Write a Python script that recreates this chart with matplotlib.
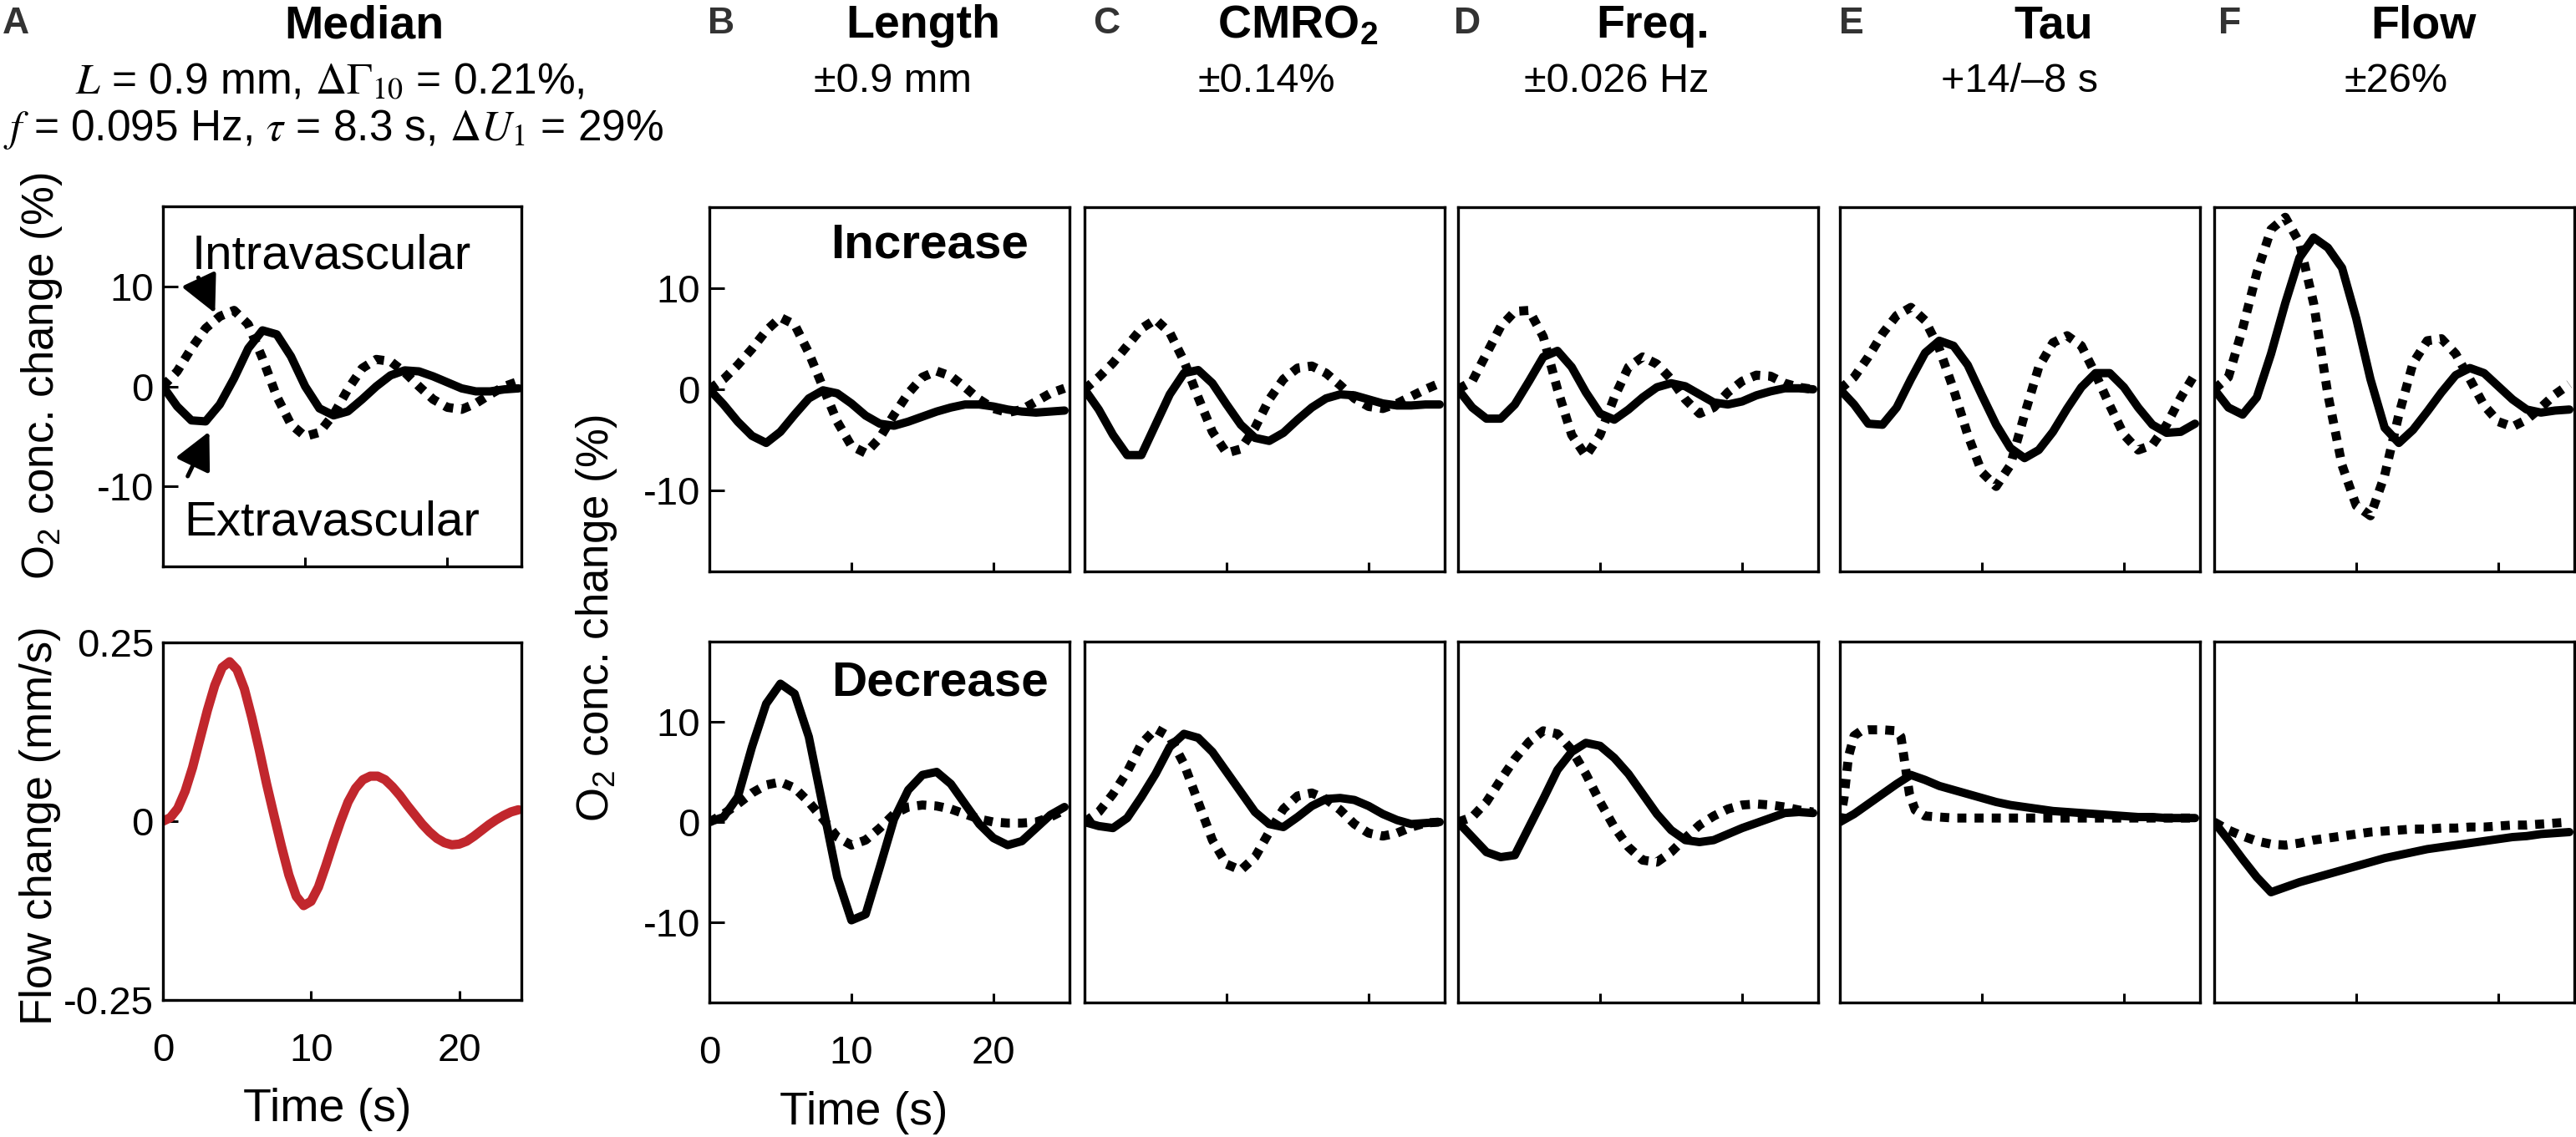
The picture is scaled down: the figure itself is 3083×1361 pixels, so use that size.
import matplotlib
matplotlib.use('Agg')

import numpy as np
import matplotlib.pyplot as plt

# figure size in pixels (rendered at 200 dpi)
W, H = 3083, 1361
DPI = 200

plt.rcParams['font.family'] = ['Liberation Sans', 'DejaVu Sans']
plt.rcParams['mathtext.fontset'] = 'custom'
plt.rcParams['mathtext.rm'] = 'Liberation Sans'
plt.rcParams['mathtext.it'] = 'Liberation Sans:italic'
plt.rcParams['mathtext.bf'] = 'Liberation Sans:bold'
plt.rcParams['axes.unicode_minus'] = False

# ---- data ----
time_s = list(range(26))                       # 0..25 s
time_half = [i * 0.5 for i in range(49)]       # 0..24 s

# panel A, median parameters
median_extra = [0, -2.0, -3.4, -3.5, -1.8, 0.8, 3.8, 5.6, 5.2, 3.0, 0.0, -2.2, -2.9,
                -2.5, -1.3, 0.0, 1.1, 1.6, 1.5, 1.0, 0.4, -0.2, -0.5, -0.5, -0.3, -0.2]
median_intra = [0, 1.5, 3.8, 5.8, 7.0, 7.6, 6.2, 2.8, -1.0, -3.8, -5.0, -4.6, -2.8,
                -0.3, 1.8, 2.7, 2.5, 1.4, 0.0, -1.3, -2.1, -2.3, -1.7, -0.8, 0.0, 0.5]
median_flow = [0.000, 0.005, 0.018, 0.042, 0.075, 0.115, 0.155, 0.190, 0.215, 0.223,
               0.212, 0.185, 0.145, 0.100, 0.052, 0.008, -0.035, -0.075, -0.105, -0.118,
               -0.112, -0.092, -0.062, -0.030, 0.000, 0.027, 0.046, 0.058, 0.063, 0.063,
               0.058, 0.048, 0.036, 0.022, 0.009, -0.004, -0.015, -0.024, -0.030, -0.033,
               -0.032, -0.028, -0.021, -0.013, -0.005, 0.002, 0.008, 0.013, 0.016]

# increase row (solid = extravascular, dotted = intravascular)
length_inc_extra = [0, -1.5, -3.2, -4.6, -5.3, -4.2, -2.5, -0.9, -0.1, -0.4, -1.4, -2.6, -3.4,
                    -3.6, -3.2, -2.7, -2.2, -1.8, -1.5, -1.5, -1.7, -2.0, -2.2, -2.3, -2.2, -2.1]
length_inc_intra = [0, 1.0, 2.4, 4.0, 5.8, 7.1, 6.4, 3.6, 0.2, -3.2, -5.6, -6.3, -4.8,
                    -2.5, -0.4, 1.2, 1.8, 1.3, 0.2, -1.0, -1.9, -2.3, -2.0, -1.2, -0.4, 0.1]
cmro2_inc_extra = [0, -2.0, -4.5, -6.5, -6.5, -3.5, -0.5, 1.6, 1.9, 0.6, -1.5, -3.5, -4.8,
                   -5.1, -4.3, -3.0, -1.8, -0.9, -0.5, -0.6, -1.0, -1.4, -1.6, -1.6, -1.5, -1.5]
cmro2_inc_intra = [0, 1.2, 2.6, 4.3, 6.0, 6.9, 5.6, 2.8, -0.8, -4.2, -6.3, -5.9, -3.8,
                   -1.0, 1.0, 2.1, 2.3, 1.6, 0.4, -0.9, -1.7, -1.9, -1.4, -0.7, 0.0, 0.6]
freq_inc_extra = [0, -1.8, -2.9, -2.9, -1.5, 0.8, 3.2, 3.8, 2.2, -0.3, -2.4, -3.0, -2.0,
                  -0.8, 0.2, 0.6, 0.3, -0.5, -1.3, -1.5, -1.2, -0.6, -0.2, 0.1, 0.1, 0.0]
freq_inc_intra = [0, 0.8, 3.5, 6.2, 7.7, 7.8, 5.2, 0.0, -4.5, -6.6, -4.5, -0.8, 2.2,
                  3.2, 2.5, 1.0, -1.0, -2.4, -1.8, -0.3, 0.8, 1.4, 1.3, 0.6, 0.2, 0.0]
tau_inc_extra = [0, -1.5, -3.4, -3.5, -1.8, 1.0, 3.6, 4.8, 4.3, 2.4, -0.6, -3.5, -5.8,
                 -6.8, -6.0, -4.2, -1.9, 0.2, 1.6, 1.6, 0.2, -1.8, -3.5, -4.3, -4.2, -3.4]
tau_inc_intra = [0, 1.2, 3.2, 5.5, 7.3, 8.1, 6.8, 4.0, 0.0, -4.5, -8.2, -9.6, -7.5,
                 -2.5, 2.2, 4.6, 5.3, 4.3, 1.5, -1.6, -4.5, -6.0, -5.5, -3.5, -0.8, 1.5]
flow_inc_extra = [0, -1.8, -2.5, -0.8, 3.5, 8.5, 13.0, 15.0, 14.0, 12.0, 7.0, 1.0, -3.8,
                  -5.3, -4.0, -2.2, -0.3, 1.4, 2.1, 1.6, 0.3, -1.0, -2.0, -2.3, -2.1, -2.0]
flow_inc_intra = [0, 1.2, 6.0, 11.5, 15.8, 17.0, 14.5, 8.5, -0.5, -7.5, -11.5, -12.5, -8.5,
                  -2.5, 2.6, 4.8, 5.0, 3.5, 1.0, -1.6, -3.2, -3.7, -3.0, -1.8, -0.5, 0.5]

# decrease row
length_dec_extra = [0, 0.5, 2.5, 7.5, 11.8, 13.8, 12.8, 8.5, 1.5, -5.5, -9.8, -9.2, -4.5,
                    0.3, 3.2, 4.7, 5.0, 3.8, 1.8, -0.2, -1.6, -2.3, -1.9, -0.6, 0.7, 1.5]
length_dec_intra = [0, 0.8, 1.8, 2.9, 3.7, 4.0, 3.4, 2.0, 0.3, -1.5, -2.3, -1.8, -0.6,
                    0.8, 1.5, 1.7, 1.6, 1.3, 0.8, 0.3, 0.0, -0.1, -0.1, 0.0, 0.5, 1.2]
cmro2_dec_extra = [0, -0.4, -0.6, 0.4, 2.5, 4.8, 7.5, 8.8, 8.4, 7.0, 5.0, 3.0, 1.0,
                   -0.2, -0.5, 0.5, 1.6, 2.3, 2.4, 2.2, 1.6, 0.8, 0.2, -0.2, -0.1, 0.0]
cmro2_dec_intra = [0, 1.0, 2.8, 5.0, 7.8, 9.3, 8.5, 5.8, 2.0, -1.8, -4.2, -4.8, -3.5,
                   -1.0, 1.3, 2.6, 2.9, 2.3, 1.2, -0.2, -1.1, -1.4, -1.1, -0.5, -0.1, 0.0]
freq_dec_extra = [0, -1.5, -3.0, -3.5, -3.3, -0.5, 2.3, 5.2, 7.0, 7.9, 7.6, 6.4, 4.8,
                  2.8, 0.8, -0.8, -1.8, -2.0, -1.8, -1.2, -0.6, -0.1, 0.4, 0.9, 1.0, 0.9]
freq_dec_intra = [0, 0.5, 2.0, 4.2, 6.3, 8.0, 9.1, 8.8, 7.2, 4.8, 2.0, -0.5, -2.5,
                  -3.8, -4.0, -3.0, -1.6, -0.3, 0.6, 1.3, 1.7, 1.8, 1.7, 1.5, 1.2, 1.0]
tau_dec_extra = [0, 0.8, 1.8, 2.8, 3.8, 4.7, 4.2, 3.6, 3.2, 2.8, 2.4, 2.0, 1.7,
                 1.5, 1.3, 1.1, 1.0, 0.9, 0.8, 0.7, 0.6, 0.5, 0.5, 0.4, 0.4, 0.4]
tau_dec_intra_t = [0, 0.3, 0.6, 1.0, 1.5, 2.0, 3.0, 4.0, 4.3, 4.6, 4.9, 5.3, 6.0,
                   7.0, 8.0, 10.0, 12.0, 15.0, 20.0, 25.0]
tau_dec_intra = [0, 2.5, 6.5, 8.6, 9.1, 9.2, 9.2, 9.1, 8.5, 5.6, 2.8, 1.2, 0.6,
                 0.5, 0.4, 0.4, 0.4, 0.4, 0.4, 0.4]
flow_dec_extra = [0, -1.8, -3.7, -5.5, -7.0, -6.5, -6.0, -5.6, -5.2, -4.8, -4.4, -4.0, -3.6,
                  -3.3, -3.0, -2.7, -2.5, -2.3, -2.1, -1.9, -1.7, -1.5, -1.4, -1.2, -1.1, -1.0]
flow_dec_intra = [0, -0.8, -1.4, -1.9, -2.2, -2.3, -2.1, -1.8, -1.6, -1.4, -1.2, -1.0, -0.9,
                  -0.8, -0.7, -0.7, -0.6, -0.6, -0.5, -0.5, -0.4, -0.3, -0.3, -0.2, -0.1, 0.0]

panel_letters = ['B', 'C', 'D', 'E', 'F']
panel_titles = ['Length', 'CMRO$_\\mathbf{2}$', 'Freq.', 'Tau', 'Flow']
panel_ranges = ['\u00b10.9 mm', '\u00b10.14%', '\u00b10.026 Hz', '+14/\u20138 s', '\u00b126%']

inc_extra = [length_inc_extra, cmro2_inc_extra, freq_inc_extra, tau_inc_extra, flow_inc_extra]
inc_intra = [length_inc_intra, cmro2_inc_intra, freq_inc_intra, tau_inc_intra, flow_inc_intra]
dec_extra = [length_dec_extra, cmro2_dec_extra, freq_dec_extra, tau_dec_extra, flow_dec_extra]
dec_intra = [length_dec_intra, cmro2_dec_intra, freq_dec_intra, tau_dec_intra, flow_dec_intra]
dec_intra_t = [time_s, time_s, time_s, tau_dec_intra_t, time_s]

# ---- layout (pixel boxes) ----
col_left = [849, 1298, 1745, 2202, 2650]
col_w = 431
top_row = (248, 684)
bot_row = (768, 1200)

LW = 3.6
DOTS = (1.0, 0.9)
RED = '#C1272D'


def box(l, t, r, b):
    return [l / W, 1 - b / H, (r - l) / W, (b - t) / H]


def fx(px):
    return px / W


def fy(py):
    return 1 - py / H


def style_ax(ax, ylab=False, xlab=False):
    for s in ax.spines.values():
        s.set_linewidth(1.2)
    ax.tick_params(axis='x', direction='in', length=4, width=1.1, pad=14, labelsize=17)
    ax.tick_params(axis='y', direction='in', length=6.5, width=1.1, pad=4, labelsize=17)
    if not xlab:
        ax.tick_params(axis='x', labelbottom=False)
    if not ylab:
        ax.set_yticks([])


def draw_pair(ax, t_solid, solid, t_dot, dotted):
    ax.plot(t_dot, dotted, color='k', lw=LW + 0.3, linestyle=(0, DOTS),
            dash_capstyle='butt')
    ax.plot(t_solid, solid, color='k', lw=LW, solid_capstyle='round',
            solid_joinstyle='round')


fig = plt.figure(figsize=(W / DPI, H / DPI), dpi=DPI)

# ---- panel A ----
axA = fig.add_axes(box(195, 247, 624, 678))
draw_pair(axA, time_s, median_extra, time_s, median_intra)
axA.set_xlim(0, 25.2)
axA.set_ylim(-18, 18)
axA.set_xticks([10, 20])
axA.set_yticks([-10, 0, 10])
style_ax(axA, ylab=True)
axA.text(2.06, 11.8, 'Intravascular', fontsize=21, va='baseline')
axA.annotate('', xy=(3.8, 6.9), xytext=(2.35, 11.3),
             arrowprops=dict(arrowstyle='-|>', lw=1.8, mutation_scale=34, color='k'))
axA.text(1.47, -14.85, 'Extravascular', fontsize=21, va='baseline')
axA.annotate('', xy=(3.4, -4.1), xytext=(1.6, -9.4),
             arrowprops=dict(arrowstyle='-|>', lw=1.8, mutation_scale=34, color='k'))

axA2 = fig.add_axes(box(195, 769, 624, 1197))
axA2.plot(time_half, median_flow, color=RED, lw=4.0, solid_capstyle='round')
axA2.set_xlim(0, 24.2)
axA2.set_ylim(-0.25, 0.25)
axA2.set_xticks([0, 10, 20])
axA2.set_yticks([-0.25, 0, 0.25])
axA2.set_yticklabels(['-0.25', '0', '0.25'])
style_ax(axA2, ylab=True, xlab=True)

fig.text(fx(50), fy(450), 'O$_2$ conc. change (%)', rotation=90, fontsize=19,
         ha='center', va='center')
fig.text(fx(48), fy(988), 'Flow change (mm/s)', rotation=90, fontsize=19,
         ha='center', va='center')
fig.text(fx(392), fy(1328), 'Time (s)', fontsize=20, ha='center', va='center')

# ---- panels B-F ----
for i in range(5):
    l = col_left[i]
    ax1 = fig.add_axes(box(l, top_row[0], l + col_w, top_row[1]))
    draw_pair(ax1, time_s, inc_extra[i], time_s, inc_intra[i])
    ax2 = fig.add_axes(box(l, bot_row[0], l + col_w, bot_row[1]))
    draw_pair(ax2, time_s, dec_extra[i], dec_intra_t[i], dec_intra[i])
    for ax in (ax1, ax2):
        ax.set_xlim(0, col_w / 17.0)
        ax.set_ylim(-18, 18)
        ax.set_yticks([-10, 0, 10])
    ax1.set_xticks([10, 20])
    ax2.set_xticks([0, 10, 20] if i == 0 else [10, 20])
    style_ax(ax1, ylab=(i == 0))
    style_ax(ax2, ylab=(i == 0), xlab=(i == 0))
    if i == 0:
        ax1.text(0.336, 0.862, 'Increase', transform=ax1.transAxes, fontsize=21,
                 fontweight='bold', va='baseline')
        ax2.text(0.339, 0.85, 'Decrease', transform=ax2.transAxes, fontsize=21,
                 fontweight='bold', va='baseline')

fig.text(fx(714), fy(740), 'O$_2$ conc. change (%)', rotation=90, fontsize=19,
         ha='center', va='center')
fig.text(fx(1034), fy(1332), 'Time (s)', fontsize=20, ha='center', va='center')

# ---- headers ----
letter_x = [3, 847, 1308, 1740, 2201, 2655]
for lx, lt in zip(letter_x, ['A'] + panel_letters):
    fig.text(fx(lx), fy(40), lt, fontsize=16, fontweight='bold', color='#333333',
             ha='left', va='baseline')

title_x = [436, 1105, 1553, 1978, 2458, 2900]
for tx, tt in zip(title_x, ['Median'] + panel_titles):
    fig.text(fx(tx), fy(45), tt, fontsize=20, fontweight='bold', ha='center',
             va='baseline')

range_x = [1068, 1516, 1935, 2417, 2868]
for rx, rt in zip(range_x, panel_ranges):
    fig.text(fx(rx), fy(110), rt, fontsize=17.5, ha='center', va='baseline')

fig.text(fx(395), fy(113), r'$L$ = 0.9 mm, $\Delta\Gamma_{10}$ = 0.21%,', fontsize=18.5,
         ha='center', va='baseline', math_fontfamily='stix')
fig.text(fx(399), fy(168), r'$f$ = 0.095 Hz, $\tau$ = 8.3 s, $\Delta U_1$ = 29%', fontsize=18.5,
         ha='center', va='baseline', math_fontfamily='stix')

fig.savefig('out.png', dpi=DPI, facecolor='white')
